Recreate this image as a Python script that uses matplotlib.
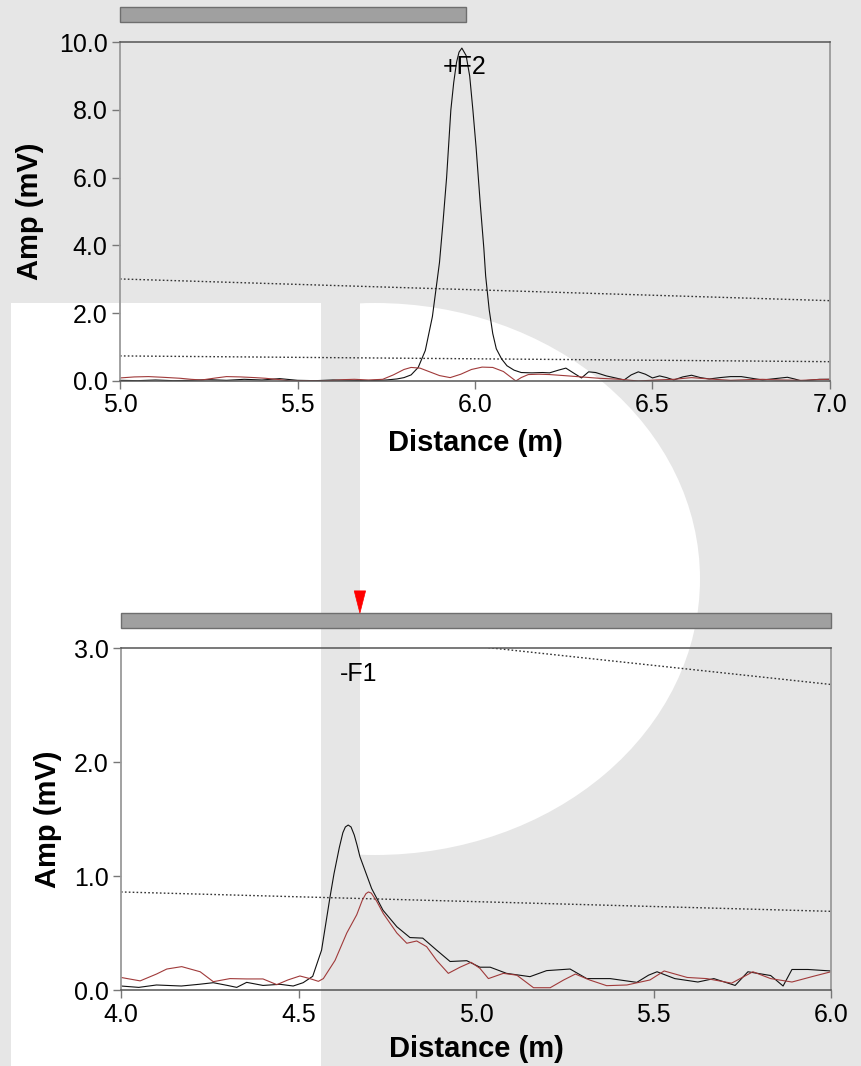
import matplotlib
matplotlib.use("Agg")
import matplotlib.pyplot as plt
import matplotlib.patches as patches
import matplotlib.transforms as transforms
from matplotlib.ticker import FormatStrFormatter

plt.rcParams['font.family'] = ['Liberation Sans', 'DejaVu Sans']

# ---- top trace (+F2), distance in m, amplitude in mV ----
top_x_black = [5.00, 5.05, 5.10, 5.15, 5.20, 5.25, 5.30, 5.35, 5.40, 5.45, 5.50, 5.55,
               5.60, 5.65, 5.70, 5.75, 5.78, 5.80, 5.82, 5.84, 5.86, 5.88, 5.90, 5.91,
               5.92, 5.932, 5.94, 5.948, 5.955, 5.963, 5.975, 5.985, 5.994, 6.003,
               6.015, 6.025, 6.03, 6.04, 6.05, 6.06, 6.075,
               6.09, 6.11, 6.13, 6.16, 6.19, 6.21, 6.235, 6.256, 6.28, 6.30, 6.32, 6.34,
               6.37, 6.40, 6.42, 6.44, 6.46, 6.48, 6.50, 6.52, 6.54, 6.56, 6.585, 6.61,
               6.635, 6.66, 6.69, 6.72, 6.75, 6.78, 6.81, 6.845, 6.88, 6.90, 6.92, 6.95,
               6.97, 7.00]
top_y_black = [0.02, 0.01, 0.03, 0.01, 0.02, 0.04, 0.02, 0.05, 0.03, 0.07, 0.02, 0.01,
               0.03, 0.02, 0.01, 0.03, 0.06, 0.10, 0.18, 0.40, 0.90, 1.90, 3.50, 4.70,
               6.00, 8.00, 8.80, 9.40, 9.70, 9.82, 9.60, 9.00, 8.00, 6.90,
               5.20, 3.90, 3.10, 2.10, 1.40, 0.95, 0.65,
               0.45, 0.32, 0.25, 0.24, 0.25, 0.24, 0.32, 0.38, 0.22, 0.09, 0.27, 0.25,
               0.15, 0.08, 0.03, 0.18, 0.27, 0.20, 0.09, 0.15, 0.10, 0.03, 0.12, 0.17,
               0.10, 0.06, 0.10, 0.13, 0.13, 0.08, 0.03, 0.07, 0.11, 0.06, 0.00, 0.03,
               0.05, 0.05]
top_x_red = [5.00, 5.04, 5.08, 5.12, 5.17, 5.20, 5.23, 5.27, 5.30, 5.34, 5.38, 5.41,
             5.45, 5.48, 5.52, 5.56, 5.59, 5.63, 5.66, 5.70, 5.74, 5.77, 5.80, 5.82,
             5.845, 5.87, 5.90, 5.93, 5.96, 5.99, 6.02, 6.05, 6.08, 6.10, 6.115, 6.13,
             6.15, 6.18, 6.21, 6.25, 6.30, 6.35, 6.41, 6.46, 6.51, 6.56, 6.61, 6.66,
             6.72, 6.77, 6.81, 6.86, 6.92, 6.96, 7.00]
top_y_red = [0.09, 0.12, 0.13, 0.11, 0.08, 0.05, 0.03, 0.09, 0.13, 0.12, 0.10, 0.08,
             0.04, 0.00, 0.01, 0.00, 0.01, 0.04, 0.05, 0.03, 0.05, 0.18, 0.34, 0.40,
             0.38, 0.28, 0.16, 0.10, 0.20, 0.34, 0.41, 0.40, 0.28, 0.12, 0.00, 0.10,
             0.19, 0.20, 0.19, 0.16, 0.12, 0.08, 0.05, 0.00, 0.03, 0.05, 0.10, 0.06,
             0.02, 0.04, 0.05, 0.03, 0.02, 0.04, 0.05]
top_thr_x = [5.0, 7.0]
top_thr_hi = [3.01, 2.37]
top_thr_lo = [0.74, 0.57]
top_event_x = 5.975
top_event_label = "+F2"
top_label_pos = (5.97, 9.25)

# ---- bottom trace (-F1) ----
bot_x_black = [4.00, 4.05, 4.10, 4.17, 4.22, 4.26, 4.30, 4.326, 4.354, 4.40, 4.448,
               4.485, 4.513, 4.54, 4.565, 4.589, 4.60, 4.615, 4.625, 4.632, 4.64,
               4.648, 4.657, 4.665, 4.673, 4.706, 4.738,
               4.777, 4.814, 4.85, 4.889, 4.927, 4.974, 5.011, 5.04, 5.086, 5.152,
               5.199, 5.265, 5.312, 5.378, 5.453, 5.486, 5.51, 5.56, 5.625, 5.67,
               5.73, 5.766, 5.83, 5.865, 5.89, 5.935, 6.00]
bot_y_black = [0.035, 0.023, 0.044, 0.035, 0.05, 0.064, 0.04, 0.023, 0.067, 0.04, 0.05,
               0.035, 0.064, 0.12, 0.35, 0.82, 1.02, 1.25, 1.38, 1.43, 1.447,
               1.43, 1.36, 1.27, 1.17, 0.89, 0.70,
               0.555, 0.46, 0.455, 0.35, 0.25, 0.257, 0.20, 0.20, 0.146, 0.117,
               0.17, 0.184, 0.10, 0.10, 0.067, 0.13, 0.16, 0.10, 0.07, 0.10,
               0.04, 0.16, 0.127, 0.035, 0.18, 0.18, 0.167]
bot_x_red = [4.00, 4.054, 4.10, 4.129, 4.171, 4.223, 4.26, 4.307, 4.354, 4.40, 4.439,
             4.47, 4.504, 4.532, 4.556, 4.57, 4.603, 4.636, 4.664, 4.68, 4.69, 4.697,
             4.705, 4.72, 4.739,
             4.777, 4.805, 4.833, 4.861, 4.889, 4.922, 4.955, 4.986, 5.011, 5.035,
             5.077, 5.115, 5.162, 5.209, 5.247, 5.28, 5.32, 5.368, 5.425, 5.49,
             5.53, 5.595, 5.65, 5.72, 5.78, 5.83, 5.89, 5.95, 6.00]
bot_y_red = [0.11, 0.08, 0.14, 0.184, 0.205, 0.16, 0.073, 0.10, 0.097, 0.097, 0.047,
             0.088, 0.123, 0.10, 0.076, 0.10, 0.26, 0.50, 0.66, 0.79, 0.845, 0.86,
             0.85, 0.78, 0.67,
             0.50, 0.41, 0.43, 0.38, 0.26, 0.146, 0.20, 0.243, 0.19, 0.10,
             0.146, 0.13, 0.02, 0.02, 0.088, 0.14, 0.088, 0.038, 0.044, 0.088,
             0.167, 0.11, 0.10, 0.06, 0.16, 0.10, 0.07, 0.12, 0.16]
bot_thr_x = [4.0, 6.0]
bot_thr_hi = [3.35, 2.68]
bot_thr_lo = [0.86, 0.69]
bot_event_x = 4.673
bot_event_label = "-F1"
bot_label_pos = (4.67, 2.77)

BG = '#e6e6e6'
BLACK_TRACE = '#111111'
RED_TRACE = '#a03a3a'

fig = plt.figure(figsize=(8.62, 10.66), dpi=100, facecolor=BG)
W, H = 862.0, 1066.0

# faint "P" watermark behind both charts
bowl = patches.Ellipse((375 / W, 1 - 579 / H), 650 / W, 552 / H,
                       transform=fig.transFigure, facecolor='white', edgecolor='none', zorder=-10)
stem = patches.Rectangle((11 / W, 0), 310 / W, 1 - 303 / H,
                         transform=fig.transFigure, facecolor='white', edgecolor='none', zorder=-9)
gap = patches.Rectangle((321 / W, 0), 39 / W, 1,
                        transform=fig.transFigure, facecolor=BG, edgecolor='none', zorder=-8)
fig.patches.extend([bowl, stem, gap])


def setup_axes(rect, xlim, ylim, xticks, yticks, ylab_x, xlab_y):
    ax = fig.add_axes(rect)
    ax.set_facecolor('none')
    ax.set_xlim(xlim)
    ax.set_ylim(ylim)
    ax.set_xticks(xticks)
    ax.set_yticks(yticks)
    ax.xaxis.set_major_formatter(FormatStrFormatter('%.1f'))
    ax.yaxis.set_major_formatter(FormatStrFormatter('%.1f'))
    ax.tick_params(axis='both', direction='out', length=6, width=1.0, color='#777777',
                   labelsize=18, labelcolor='black', pad=3)
    for side in ['left', 'right']:
        ax.spines[side].set_color('#9a9a9a')
        ax.spines[side].set_linewidth(1.3)
    for side in ['top', 'bottom']:
        ax.spines[side].set_color('#555555')
        ax.spines[side].set_linewidth(1.1)
    ax.set_xlabel('Distance (m)', fontsize=21, fontweight='bold', va='center')
    ax.set_ylabel('Amp (mV)', fontsize=21, fontweight='bold', va='center')
    ax.xaxis.set_label_coords(0.5, xlab_y)
    ax.yaxis.set_label_coords(ylab_x, 0.5)
    return ax


def draw_panel(ax, xb, yb, xr, yr, thr_x, thr_hi, thr_lo):
    ax.plot(thr_x, thr_hi, color='#333333', lw=1.0, ls=(0, (1.2, 1.6)))
    ax.plot(thr_x, thr_lo, color='#333333', lw=1.0, ls=(0, (1.2, 1.6)))
    ax.plot(xb, yb, color=BLACK_TRACE, lw=0.8, solid_joinstyle='round')
    ax.plot(xr, yr, color=RED_TRACE, lw=0.8, solid_joinstyle='round')


def draw_bar(ax, x0, x1, y0, y1):
    trans = transforms.blended_transform_factory(ax.transData, ax.transAxes)
    bar = patches.Rectangle((x0, y0), x1 - x0, y1 - y0, transform=trans,
                            facecolor='#a0a0a0', edgecolor='#6e6e6e', lw=1.0, clip_on=False)
    ax.add_patch(bar)
    return trans


# top chart
ax1 = setup_axes([120 / W, 1 - 381 / H, 710 / W, 339 / H], (5.0, 7.0), (0, 10.0),
                 [5.0, 5.5, 6.0, 6.5, 7.0], [0, 2, 4, 6, 8, 10], -0.127, -0.183)
draw_panel(ax1, top_x_black, top_y_black, top_x_red, top_y_red, top_thr_x, top_thr_hi, top_thr_lo)
draw_bar(ax1, 5.0, top_event_x, 1.059, 1.103)
ax1.text(top_label_pos[0], top_label_pos[1], top_event_label, fontsize=18, ha='center', va='center')

# bottom chart
ax2 = setup_axes([121 / W, 1 - 990 / H, 710 / W, 342 / H], (4.0, 6.0), (0, 3.0),
                 [4.0, 4.5, 5.0, 5.5, 6.0], [0, 1, 2, 3], -0.103, -0.1725)
draw_panel(ax2, bot_x_black, bot_y_black, bot_x_red, bot_y_red, bot_thr_x, bot_thr_hi, bot_thr_lo)
trans2 = draw_bar(ax2, 4.0, 6.0, 1.058, 1.102)
half_w = 0.016
marker = patches.Polygon([(bot_event_x - half_w, 1.167), (bot_event_x + half_w, 1.167),
                          (bot_event_x, 1.102)], closed=True, transform=trans2,
                         facecolor='#ff0000', edgecolor='#ff0000', lw=0.5, clip_on=False)
ax2.add_patch(marker)
ax2.text(bot_label_pos[0], bot_label_pos[1], bot_event_label, fontsize=18, ha='center', va='center')

fig.savefig('out.png', dpi=100, facecolor=BG)
